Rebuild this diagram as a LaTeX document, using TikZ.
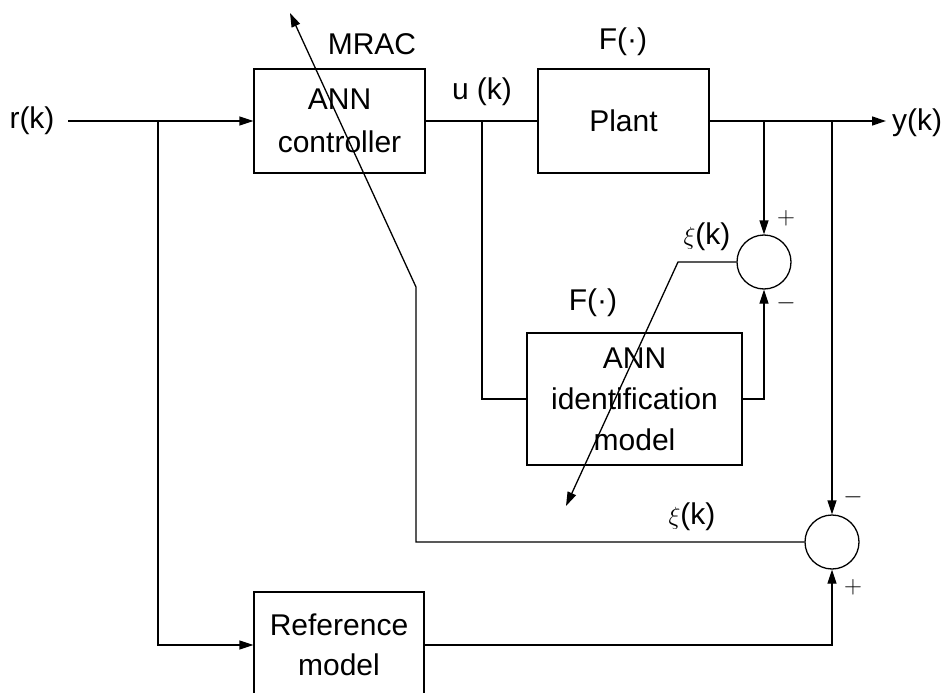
\documentclass[tikz,border=0pt]{standalone}
\usepackage{fontspec}
\setmainfont{Liberation Sans}
\usetikzlibrary{arrows.meta}
\begin{document}
\begin{tikzpicture}[x=1pt,y=-1pt,
  line width=1.3pt,
  every node/.style={font=\fontsize{30}{36}\selectfont},
  blk/.style={draw,rectangle,inner sep=0pt,align=center},
  sumc/.style={draw,circle,minimum size=54pt,inner sep=0pt},
  sgn/.style={font=\fontsize{24}{26}\selectfont},
  arr/.style={-{Triangle[length=14pt,width=9pt]}}]
\useasboundingbox (0,0) rectangle (951,693);
% blocks
\node[blk,minimum width=171pt,minimum height=104pt,font=\fontsize{30}{43}\selectfont] (ctrl) at (339.5,121) {ANN\\controller};
\node[blk,minimum width=171pt,minimum height=104pt] (plant) at (623.5,121) {Plant};
\node[blk,minimum width=215pt,minimum height=132pt,font=\fontsize{30}{41}\selectfont] (ident) at (634.5,399) {ANN\\identification\\model};
\node[blk,minimum width=170pt,minimum height=106pt,font=\fontsize{30}{40}\selectfont] (ref) at (339,645) {Reference\\model};
\node[sumc] (sum1) at (764,262) {};
\node[sumc] (sum2) at (832,542) {};
% labels
\node (rk) at (32,121) {r(k)};
\node (yk) at (917,123) {y(k)};
\node (uk) at (482,92) {u (k)};
\node (mrac) at (372,44) {MRAC};
\node (F1) at (623,42) {F(·)};
\node (F2) at (593,303) {F(·)};
\node (xi1) at (707,237) {$\xi$(k)};
\node (xi2) at (692,517) {$\xi$(k)};
\node[sgn] (p1) at (786,218) {$+$};
\node[sgn] (m1) at (786,303) {$-$};
\node[sgn] (m2) at (853,497) {$-$};
\node[sgn] (p2) at (853,587) {$+$};
% coordinates
\coordinate (rin) at (68,121);
\coordinate (b1) at (158,121);
\coordinate (b2) at (482,121);
\coordinate (b3) at (764,121);
\coordinate (b4) at (832,121);
\coordinate (yend) at (886,121);
\coordinate (c1) at (416,287);
\coordinate (t1) at (290,13);
\coordinate (c2) at (678,262);
\coordinate (t2) at (566,506);
% connectors
\draw[arr] (rin) -- (ctrl.west);
\draw[arr] (b1) |- (ref.west);
\draw (ctrl.east) -- (plant.west);
\draw (b2) |- (ident.west);
\draw[arr] (plant.east) -- (yend);
\draw[arr] (b3) -- (sum1.north);
\draw[arr] (b4) -- (sum2.north);
\draw[arr] (ident.east) -| (sum1.south);
\draw[arr] (ref.east) -| (sum2.south);
\draw[arr] (sum2.west) -| (c1) -- (t1);
\draw[arr] (sum1.west) -- (c2) -- (t2);
\end{tikzpicture}
\end{document}
